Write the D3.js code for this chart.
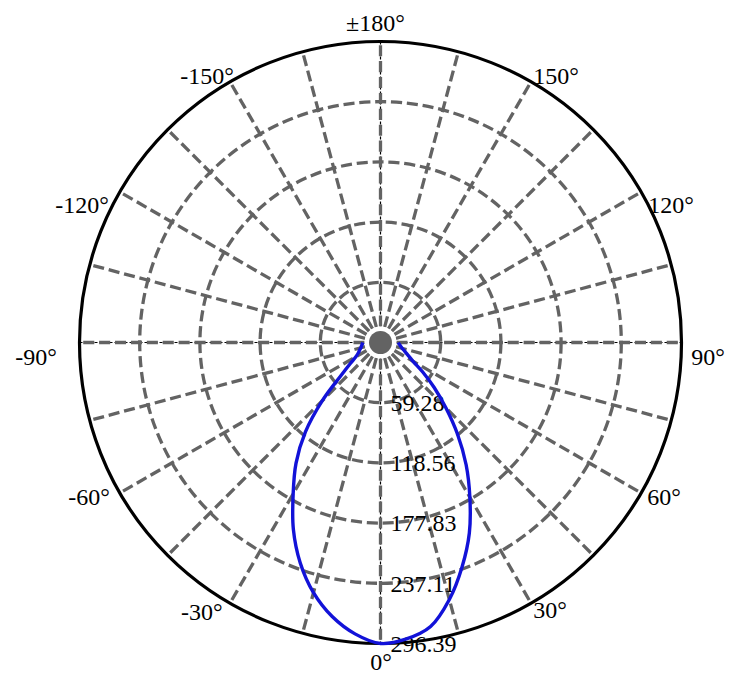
<!DOCTYPE html>
<html>
<head>
<meta charset="utf-8">
<script src="https://cdn.jsdelivr.net/npm/d3@7/dist/d3.min.js"></script>
<style>
  html, body { margin: 0; padding: 0; background: #fff; }
  svg { display: block; }
  text { font-family: "Liberation Serif", "Times New Roman", serif; }
</style>
</head>
<body>
<svg id="chart" width="748" height="689"></svg>
<script>
// ---- data ----
const angles = [-90,-85,-80,-75,-70,-65,-60,-55,-50,-45,-40,-35,-30,-25,-20,-15,-10,-5,0,
                5,10,15,20,25,30,35,40,45,50,55,60,65,70,75,80,85,90];
const intensity = [17.5,18,19,20,22,24,28,36.5,51,81,115,145,172,203,231,255,274,288,296.39,
                   293,284,262,235,207,176,147,118,91,69,51,37,30,25.5,22,20,18.5,17.5];
const radialTicks = [59.28, 118.56, 177.83, 237.11, 296.39];
const radialTickLabels = ["59.28", "118.56", "177.83", "237.11", "296.39"];
const labelAngles = [0, 30, 60, 90, 120, 150, 180, -150, -120, -90, -60, -30];
const labelTexts = ["0°", "30°", "60°", "90°", "120°", "150°", "±180°", "-150°", "-120°", "-90°", "-60°", "-30°"];
const spokeAngles = d3.range(0, 360, 15);

// ---- layout ----
const cx = 380.5, cy = 342.5, R = 301;
const gray = "#636363";
const fontSize = 24;
// small placement nudges for angle labels (layout only), same order as labelAngles
const labelNudge = [[0.5,-0.5],[9.5,-9.6],[6.4,-5.5],[7.5,14.5],[13.4,22.5],[15.5,10.6],
                    [-5,0],[-13.5,10.6],[-21.4,22.5],[-24.5,14.5],[-14.4,-5.5],[-18.8,-7.9]];
const labelRadius = 320;

const svg = d3.select("#chart");
const g = svg.append("g").attr("transform", `translate(${cx},${cy})`);
const r = d3.scaleLinear().domain([0, 296.39]).range([0, R]);
const toRad = d => d * Math.PI / 180;
// chart angle: 0° at bottom, positive toward the right
const px = (deg, rad) => rad * Math.sin(toRad(deg));
const py = (deg, rad) => rad * Math.cos(toRad(deg));

// axis black thin lines (diameters)
g.append("line").attr("x1", 0).attr("y1", -R).attr("x2", 0).attr("y2", R)
  .attr("stroke", "#000").attr("stroke-width", 1.2).attr("stroke-dasharray", "3,2");
g.append("line").attr("x1", -R).attr("y1", 0).attr("x2", R).attr("y2", 0)
  .attr("stroke", "#000").attr("stroke-width", 1.2).attr("stroke-dasharray", "3,2");

// spokes
g.selectAll("line.spoke").data(spokeAngles).join("line")
  .attr("class", "spoke")
  .attr("x1", 0).attr("y1", 0)
  .attr("x2", d => px(d, R)).attr("y2", d => py(d, R))
  .attr("stroke", gray).attr("stroke-width", 3.3).attr("stroke-dasharray", "11.1,4.8");

// rings
g.selectAll("circle.ring").data(radialTicks.slice(0, -1)).join("circle")
  .attr("class", "ring")
  .attr("r", d => r(d))
  .attr("fill", "none").attr("stroke", gray).attr("stroke-width", 3.3)
  .attr("stroke-dasharray", "11.1,4.8");

// outer circle
g.append("circle").attr("r", r(radialTicks[radialTicks.length - 1]))
  .attr("fill", "none").attr("stroke", "#000").attr("stroke-width", 3.2);

// center dot
g.append("circle").attr("r", 16).attr("fill", "#fff");
g.append("circle").attr("r", 11.5).attr("fill", gray);

// radial labels
g.selectAll("text.rlab").data(radialTicks).join("text")
  .attr("class", "rlab")
  .attr("x", 10).attr("y", d => r(d))
  .attr("dy", "0.35em")
  .attr("font-size", fontSize).attr("fill", "#000")
  .text((d, i) => radialTickLabels[i]);

// curve
const line = d3.lineRadial()
  .angle(d => Math.PI - toRad(d[0]))
  .radius(d => r(d[1]))
  .curve(d3.curveCatmullRom.alpha(0.5));
g.append("path")
  .datum(angles.map((a, i) => [a, intensity[i]]))
  .attr("d", line)
  .attr("fill", "none").attr("stroke", "#1212d8").attr("stroke-width", 3.4);

// angle labels
g.selectAll("text.alab").data(labelAngles).join("text")
  .attr("class", "alab")
  .attr("font-size", fontSize).attr("fill", "#000")
  .attr("text-anchor", "middle")
  .attr("x", (d, i) => px(d, labelRadius) + labelNudge[i][0])
  .attr("y", (d, i) => py(d, labelRadius) + labelNudge[i][1])
  .attr("dy", "0.35em")
  .text((d, i) => labelTexts[i]);
</script>
</body>
</html>
